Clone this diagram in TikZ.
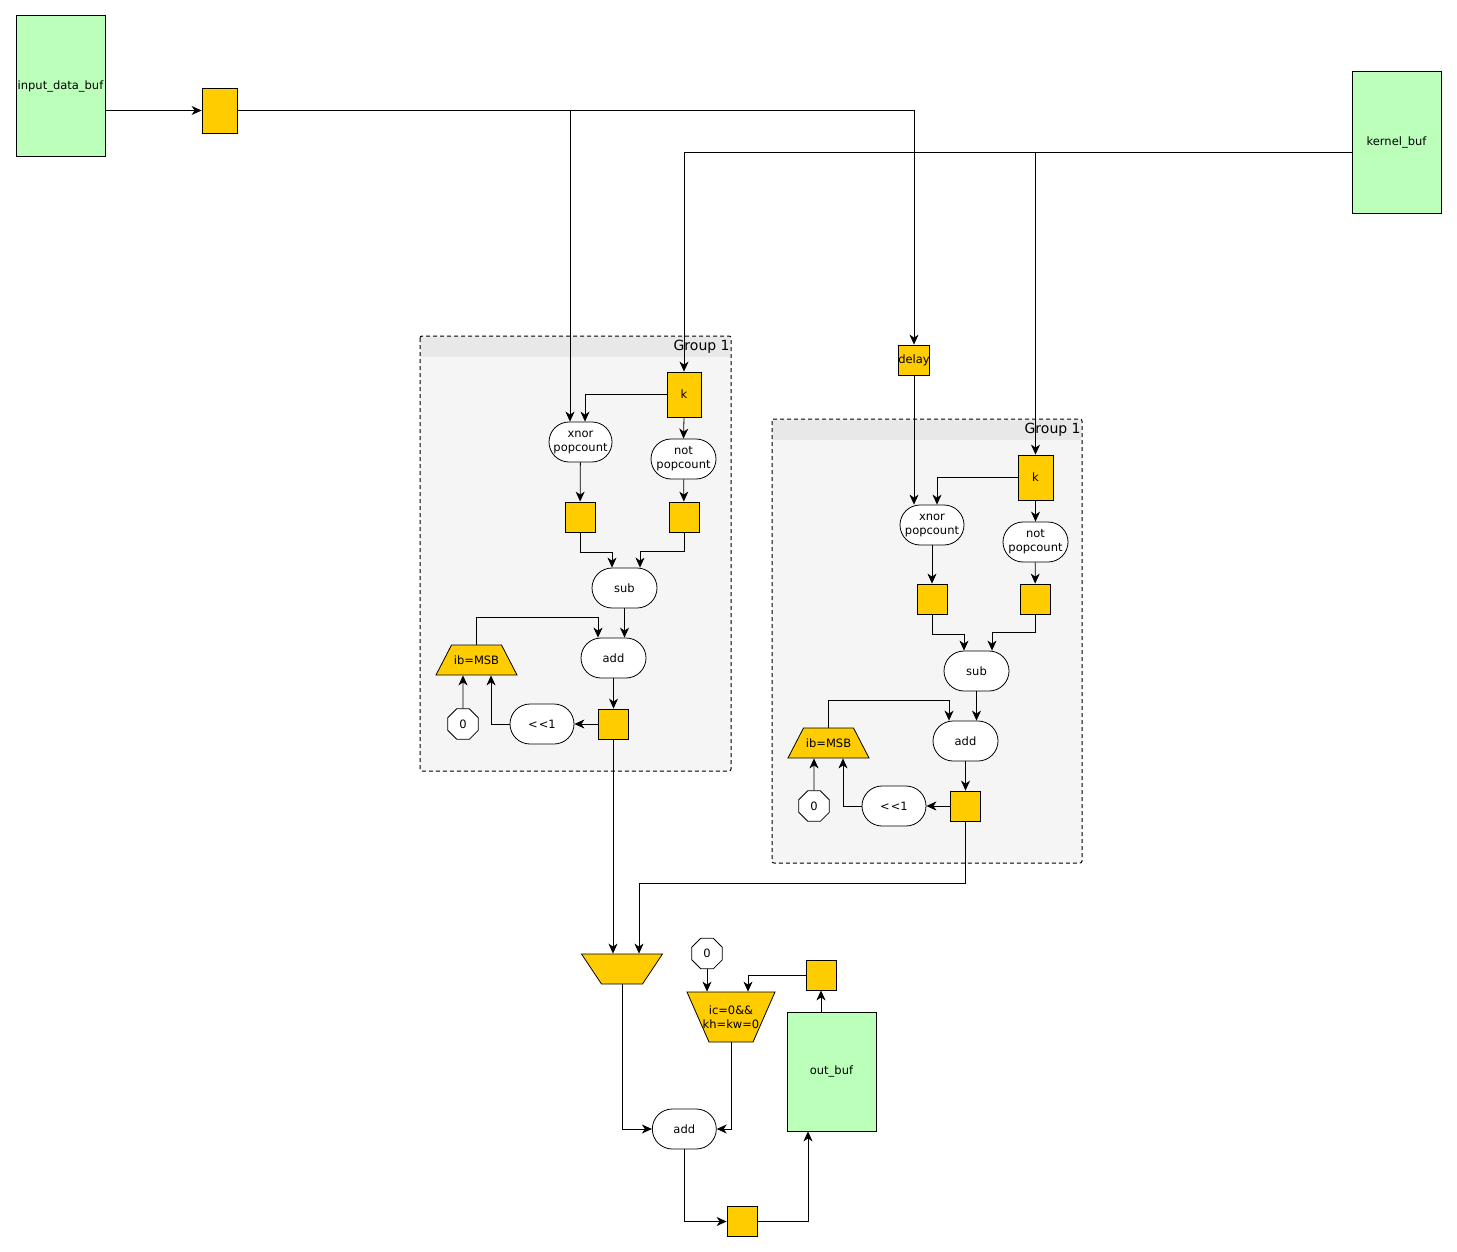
\documentclass[tikz,border=0pt]{standalone}
\usepackage{fontspec}
\setmainfont{DejaVu Sans}
\usetikzlibrary{arrows.meta, shapes.geometric}
\definecolor{regyellow}{RGB}{255,204,0}
\definecolor{bufgreen}{RGB}{187,255,187}
\definecolor{grpbody}{RGB}{245,245,245}
\definecolor{grphead}{RGB}{232,232,232}

\begin{document}
\begin{tikzpicture}[x=1pt, y=-1pt, line width=0.8pt,
        every node/.style={font=\fontsize{11.5}{14}\selectfont, inner sep=0pt, align=center},
        >={Stealth[length=10pt, width=9pt, inset=3pt]},
        buf/.style={draw, fill=bufgreen, minimum width=89pt},
        reg/.style={draw, fill=regyellow, minimum width=30pt, minimum height=30pt},
        op/.style={draw, fill=white, rounded corners=20pt, minimum width=64pt, minimum height=40pt},
        twoline/.style={execute at begin node={\rule{0pt}{11pt}}},
        trapfill/.style={draw, fill=regyellow, line join=miter},
        const/.style={draw, fill=white, regular polygon, regular polygon sides=8, minimum size=33pt},
        grp/.style={draw, line width=1pt, dash pattern=on 4pt off 3pt, fill=grpbody, rounded corners=2pt},
        grplabel/.style={anchor=east, font=\fontsize{14}{16}\selectfont}]
        \useasboundingbox (0,0) rectangle (1457,1252);

        % Buffers
        \node[buf, minimum height=141pt] (ibuf) at (60.5,86) {input\_data\_buf};
        \node[reg, minimum width=35pt, minimum height=45pt] (r0) at (219.5,110.5) {};
        \node[buf, minimum height=142pt] (kbuf) at (1396.5,142) {kernel\_buf};
        \node[reg] (delay) at (914,360) {delay};

        % Group 1 (left)
        \draw[grp] (420,336) rectangle (731,771);
        \fill[grphead] (421,337) rectangle (730,357);
        \node[grplabel] (g1) at (730,347) {Group 1};
        \node[reg, minimum width=34pt, minimum height=45pt] (k1) at (684,394.5) {k};
        \node[op, twoline, minimum width=63pt] (xnor1) at (580.5,442) {xnor\\popcount};
        \node[op, twoline, minimum width=65pt] (not1) at (683.5,459) {not\\popcount};
        \node[reg] (rx1) at (580,517) {};
        \node[reg] (rn1) at (684,517) {};
        \node[op, minimum width=65pt] (sub1) at (624.5,588) {sub};
        \node[op, minimum width=65pt] (add1) at (613.5,658) {add};
        \draw[trapfill] (436,675) -- (451.5,645) -- (501.5,645) -- (517,675) -- cycle;
        \node[minimum width=81pt, minimum height=30pt] (ib1) at (476.5,660) {ib=MSB};
        \node[const] (zero1) at (463,724) {0};
        \node[op] (shl1) at (542,724) {<\kern1pt<1};
        \node[reg] (ra1) at (613,724) {};

        % Group 1 (right)
        \draw[grp] (772,419) rectangle (1082,863);
        \fill[grphead] (773,420) rectangle (1081,440);
        \node[grplabel] (g2) at (1081,430) {Group 1};
        \node[reg, minimum width=35pt, minimum height=45pt] (k2) at (1035.5,477.5) {k};
        \node[op, twoline] (xnor2) at (932,525) {xnor\\popcount};
        \node[op, twoline, minimum width=65pt] (not2) at (1035.5,542) {not\\popcount};
        \node[reg] (rx2) at (932,599) {};
        \node[reg] (rn2) at (1035,599) {};
        \node[op, minimum width=65pt] (sub2) at (976.5,671) {sub};
        \node[op, minimum width=65pt] (add2) at (965.5,741) {add};
        \draw[trapfill] (788,758) -- (803.5,728) -- (853.5,728) -- (869,758) -- cycle;
        \node[minimum width=81pt, minimum height=30pt] (ib2) at (828.5,743) {ib=MSB};
        \node[const] (zero2) at (814,806) {0};
        \node[op] (shl2) at (894,806) {<\kern1pt<1};
        \node[reg] (ra2) at (965,806) {};

        % Accumulation
        \draw[trapfill] (581.5,954) -- (662.5,954) -- (642.5,984) -- (601.5,984) -- cycle;
        \node[minimum width=81pt, minimum height=30pt] (mux) at (622,969) {};
        \node[const] (zero3) at (707,953.5) {0};
        \draw[trapfill] (687,992) -- (775,992) -- (753,1042) -- (709,1042) -- cycle;
        \node[minimum width=88pt, minimum height=50pt] (ic) at (731,1017) {ic=0\&\&\\kh=kw=0};
        \node[reg] (reg4) at (821,975) {};
        \node[buf, minimum height=119pt] (obuf) at (831.5,1071.5) {out\_buf};
        \node[op] (add3) at (684.3,1129) {add};
        \node[reg] (reg5) at (742,1221.5) {};

        % Input and kernel lines
        \draw[->] (ibuf.east |- r0) -- (r0);
        \draw[->] (r0.east) -| (delay.north);
        \draw[->] (r0.east) -| ([xshift=-10.5pt]xnor1.north);
        \draw[->] ([yshift=-10pt]kbuf.west) -| (k1.north);
        \draw[->] ([yshift=-10pt]kbuf.west) -| (k2.north);

        % Group 1 (left) wiring
        \draw[->] (k1.west) -| ([xshift=4.5pt]xnor1.north);
        \draw[->] (k1.south) -- (not1.north);
        \draw[->] (xnor1) -- (rx1);
        \draw[->] (not1) -- (rn1);
        \draw[->] (rx1.south) -- ++(0,20) -| ([xshift=-12.5pt]sub1.north);
        \draw[->] (rn1.south) -- ++(0,19) -| ([xshift=15.5pt]sub1.north);
        \draw[->] (sub1.south) -- (sub1.south |- add1.north);
        \draw[->] (ib1.north) -- ++(0,-27) -| ([xshift=-15.5pt]add1.north);
        \draw[->] (add1.south) -- (add1.south |- ra1.north);
        \draw[->] (ra1) -- (shl1);
        \draw[->] (shl1.west) -| ([xshift=14.5pt]ib1.south);
        \draw[->] (zero1) -- (zero1 |- ib1.south);

        % Group 1 (right) wiring
        \draw[->] (k2.west) -| ([xshift=5pt]xnor2.north);
        \draw[->] (delay.south) -- (delay.south |- xnor2.north);
        \draw[->] (k2.south) -- (not2.north);
        \draw[->] (xnor2) -- (rx2);
        \draw[->] (not2) -- (rn2);
        \draw[->] (rx2.south) -- ++(0,20) -| ([xshift=-12.5pt]sub2.north);
        \draw[->] (rn2.south) -- ++(0,18) -| ([xshift=15.5pt]sub2.north);
        \draw[->] (sub2.south) -- (sub2.south |- add2.north);
        \draw[->] (ib2.north) -- ++(0,-27) -| ([xshift=-16.5pt]add2.north);
        \draw[->] (add2.south) -- (add2.south |- ra2.north);
        \draw[->] (ra2) -- (shl2);
        \draw[->] (shl2.west) -| ([xshift=14.5pt]ib2.south);
        \draw[->] (zero2) -- (zero2 |- ib2.south);

        % Output wiring
        \draw[->] (ra1.south) -- (ra1.south |- mux.north);
        \draw[->] (ra2.south) -- ++(0,62) -| ([xshift=17pt]mux.north);
        \draw[->] (mux.south) |- (add3.west);
        \draw[->] (ic.south) |- (add3.east);
        \draw[->] (zero3.south) -- (zero3.south |- ic.north);
        \draw[->] (reg4.west) -| ([xshift=17pt]ic.north);
        \draw[->] (obuf.north -| reg4) -- (reg4.south);
        \draw[->] (add3.south) |- (reg5.west);
        \draw[->] (reg5.east) -| ([xshift=-23.5pt]obuf.south);
    \end{tikzpicture}
\end{document}
